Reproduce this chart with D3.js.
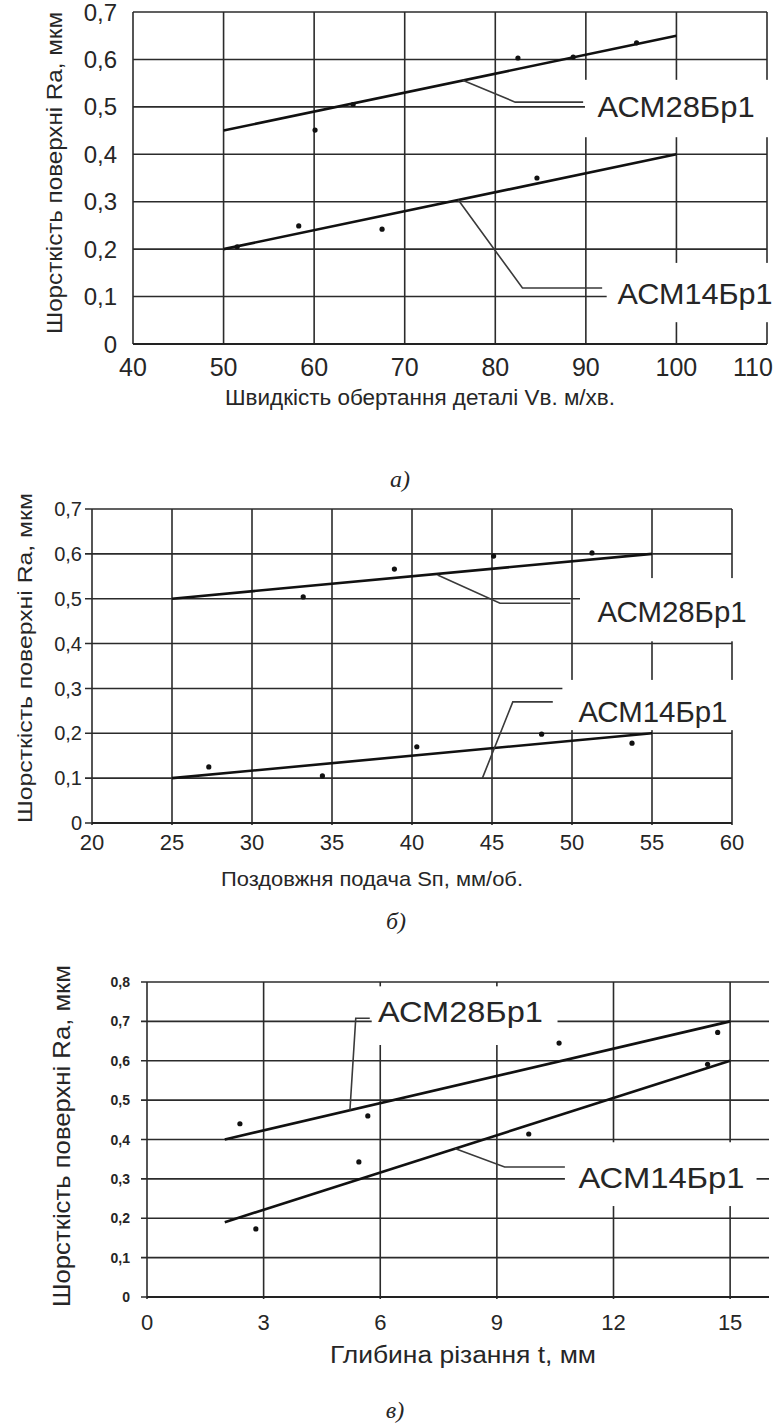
<!DOCTYPE html>
<html>
<head>
<meta charset="utf-8">
<script src="https://cdn.jsdelivr.net/npm/d3@7"></script>
<style>
  html, body { margin: 0; padding: 0; background: #fff; }
  svg { display: block; }
  text { font-family: "Liberation Sans", Arial, sans-serif; fill: #262626; }
</style>
</head>
<body>
<svg id="chart" width="776" height="1425"></svg>
<script>
// Shared labels
const grades = ["АСМ28Бр1", "АСМ14Бр1"];
const roughnessTitle = "Шорсткість поверхні Ra, мкм";

// а) surface roughness vs workpiece rotation speed
const speedTicks = [40, 50, 60, 70, 80, 90, 100, 110];
const speedRaTicks = [0, 0.1, 0.2, 0.3, 0.4, 0.5, 0.6, 0.7];
const speedFit28 = [[50, 0.45], [100, 0.65]];
const speedFit14 = [[50, 0.20], [100, 0.40]];
const speedPts28 = [[60.1, 0.451], [64.3, 0.505], [82.5, 0.603], [88.6, 0.605], [95.6, 0.635]];
const speedPts14 = [[51.5, 0.205], [58.3, 0.249], [67.5, 0.242], [84.6, 0.350]];
const speedLead28 = [[76.4, 0.556], [82.2, 0.510], [89.7, 0.510]];
const speedLead14 = [[75.9, 0.304], [83.0, 0.118], [91.8, 0.118]];

// б) surface roughness vs longitudinal feed
const feedTicks = [20, 25, 30, 35, 40, 45, 50, 55, 60];
const feedRaTicks = [0, 0.1, 0.2, 0.3, 0.4, 0.5, 0.6, 0.7];
const feedFit28 = [[25, 0.50], [55, 0.60]];
const feedFit14 = [[25, 0.10], [55, 0.20]];
const feedPts28 = [[33.2, 0.504], [38.9, 0.566], [45.1, 0.595], [51.25, 0.602]];
const feedPts14 = [[27.3, 0.125], [34.4, 0.105], [40.3, 0.170], [48.1, 0.198], [53.75, 0.178]];
const feedLead28 = [[41.6, 0.553], [45.5, 0.490], [49.9, 0.490]];
const feedLead14 = [[44.4, 0.100], [46.3, 0.270], [48.8, 0.270]];

// в) surface roughness vs depth of cut
const depthTicks = [0, 3, 6, 9, 12, 15];
const depthRaTicks = [0, 0.1, 0.2, 0.3, 0.4, 0.5, 0.6, 0.7, 0.8];
const depthFit28 = [[2, 0.40], [15, 0.70]];
const depthFit14 = [[2, 0.19], [15, 0.60]];
const depthPts28 = [[2.39, 0.440], [5.68, 0.460], [10.6, 0.645], [14.68, 0.672]];
const depthPts14 = [[2.8, 0.173], [5.45, 0.343], [9.82, 0.414], [14.42, 0.591]];
const depthLead28 = [[5.22, 0.474], [5.37, 0.708], [5.73, 0.708]];
const depthLead14 = [[7.92, 0.377], [9.2, 0.330], [10.75, 0.330]];

const fmt = v => String(v).replace(".", ",");

const panels = [
  {
    xTicks: speedTicks, yTicks: speedRaTicks, xDomain: [40, 110], yDomain: [0, 0.7],
    xRange: [133, 767], yRange: [344, 12],
    fits: [speedFit28, speedFit14], pts: [speedPts28, speedPts14], leads: [speedLead28, speedLead14],
    boxes: [
      { x0: 89.9, x1: 112, y0: 0.557, y1: 0.436, tx: 91.3, ty: 0.479, len: 157 },
      { x0: 92.3, x1: 112, y0: 0.171, y1: 0.046, tx: 93.5, ty: 0.084, len: 155 }
    ],
    yTickFont: 24, yTickGap: 16, tickLen: 0, xTickFont: 25, xTickY: 376,
    xTitle: "Швидкість обертання деталі Vв. м/хв.", xTitleX: 420, xTitleY: 405, xTitleFont: 22, xTitleLen: 390,
    yTitleX: 54, yTitleY: 173, yTitleLen: 322, yTitleFont: 22,
    caption: "а)", capX: 400, capY: 487
  },
  {
    xTicks: feedTicks, yTicks: feedRaTicks, xDomain: [20, 60], yDomain: [0, 0.7],
    xRange: [92, 732], yRange: [823, 509],
    fits: [feedFit28, feedFit14], pts: [feedPts28, feedPts14], leads: [feedLead28, feedLead14],
    boxes: [
      { x0: 50.5, x1: 61.1, y0: 0.546, y1: 0.405, tx: 51.6, ty: 0.448, len: 149 },
      { x0: 49.4, x1: 61.1, y0: 0.319, y1: 0.207, tx: 50.4, ty: 0.225, len: 149 }
    ],
    yTickFont: 20, yTickGap: 10, tickLen: 7, xTickFont: 22, xTickY: 850,
    xTitle: "Поздовжня подача Sп, мм/об.", xTitleX: 372, xTitleY: 886, xTitleFont: 21, xTitleLen: 302,
    yTitleX: 25, yTitleY: 658, yTitleLen: 330, yTitleFont: 21,
    caption: "б)", capX: 396, capY: 929
  },
  {
    xTicks: depthTicks, yTicks: depthRaTicks, xDomain: [0, 16], yDomain: [0, 0.8],
    xRange: [147, 769], yRange: [1297, 982],
    fits: [depthFit28, depthFit14], pts: [depthPts28, depthPts14], leads: [depthLead28, depthLead14],
    boxes: [
      { x0: 5.78, x1: 10.56, y0: 0.789, y1: 0.640, tx: 5.94, ty: 0.698, len: 165 },
      { x0: 10.75, x1: 15.68, y0: 0.393, y1: 0.231, tx: 11.1, ty: 0.277, len: 166 }
    ],
    yTickFont: 14, yTickBold: true, yTickGap: 17, tickLen: 6, xTickFont: 22, xTickY: 1330,
    xTitle: "Глибина різання t, мм", xTitleX: 463, xTitleY: 1363, xTitleFont: 23, xTitleLen: 266,
    yTitleX: 62, yTitleY: 1136, yTitleLen: 342, yTitleFont: 23,
    caption: "в)", capX: 395, capY: 1418
  }
];

const svg = d3.select("#chart");

panels.forEach(p => {
  const x = d3.scaleLinear().domain(p.xDomain).range(p.xRange);
  const y = d3.scaleLinear().domain(p.yDomain).range(p.yRange);
  const g = svg.append("g");
  const [xl, xr] = p.xRange;
  const [yb, yt] = p.yRange;

  // grid: horizontal lines at each roughness tick, vertical lines at each x tick
  g.append("g").selectAll("line").data(p.yTicks).join("line")
    .attr("x1", xl - p.tickLen).attr("x2", xr)
    .attr("y1", d => y(d)).attr("y2", d => y(d))
    .attr("stroke", "#2b2b2b").attr("stroke-width", 1.6);
  g.append("g").selectAll("line").data(p.xTicks).join("line")
    .attr("x1", d => x(d)).attr("x2", d => x(d))
    .attr("y1", yt).attr("y2", yb + (p.tickLen ? 2 : 0))
    .attr("stroke", "#2b2b2b").attr("stroke-width", 1.6);
  // bottom axis drawn a touch heavier
  g.append("line").attr("x1", xl).attr("x2", xr).attr("y1", yb).attr("y2", yb)
    .attr("stroke", "#222").attr("stroke-width", 2.2);

  // white patches behind the grade labels
  g.append("g").selectAll("rect").data(p.boxes).join("rect")
    .attr("x", d => x(d.x0)).attr("y", d => y(d.y0))
    .attr("width", d => x(d.x1) - x(d.x0)).attr("height", d => y(d.y1) - y(d.y0))
    .attr("fill", "#fff");

  // regression lines
  const line = d3.line().x(d => x(d[0])).y(d => y(d[1]));
  g.append("g").selectAll("path").data(p.fits).join("path")
    .attr("d", line).attr("fill", "none")
    .attr("stroke", "#111").attr("stroke-width", 2.6);

  // leader lines to the grade labels
  g.append("g").selectAll("path").data(p.leads).join("path")
    .attr("d", line).attr("fill", "none")
    .attr("stroke", "#3a3a3a").attr("stroke-width", 1.6);

  // measured points
  g.append("g").selectAll("circle").data(p.pts.flat()).join("circle")
    .attr("cx", d => x(d[0])).attr("cy", d => y(d[1]))
    .attr("r", 2.6).attr("fill", "#111");

  // grade labels
  g.append("g").selectAll("text").data(p.boxes).join("text")
    .attr("x", d => x(d.tx)).attr("y", d => y(d.ty))
    .attr("font-size", 29).attr("textLength", d => d.len)
    .attr("lengthAdjust", "spacingAndGlyphs")
    .text((d, i) => grades[i]);

  // y tick labels
  g.append("g").selectAll("text").data(p.yTicks).join("text")
    .attr("x", xl - p.yTickGap).attr("y", d => y(d))
    .attr("dy", "0.36em").attr("text-anchor", "end")
    .attr("font-size", p.yTickFont)
    .attr("font-weight", p.yTickBold ? "bold" : "normal")
    .attr("fill", p.yTickBold ? "#3a3a3a" : "#262626")
    .text(fmt);

  // x tick labels; the last one is kept inside the page edge
  const lastTick = p.xTicks[p.xTicks.length - 1];
  g.append("g").selectAll("text").data(p.xTicks).join("text")
    .attr("x", d => Math.min(x(d), 774 - (String(d).length * p.xTickFont * 0.28)))
    .attr("y", p.xTickY)
    .attr("text-anchor", "middle").attr("font-size", p.xTickFont)
    .text(d => d);

  // axis titles
  g.append("text").attr("x", p.xTitleX).attr("y", p.xTitleY)
    .attr("text-anchor", "middle").attr("font-size", p.xTitleFont)
    .attr("textLength", p.xTitleLen).attr("lengthAdjust", "spacingAndGlyphs")
    .text(p.xTitle);
  g.append("text")
    .attr("transform", `translate(${p.yTitleX},${p.yTitleY}) rotate(-90)`)
    .attr("text-anchor", "middle").attr("dy", "0.35em")
    .attr("font-size", p.yTitleFont)
    .attr("textLength", p.yTitleLen).attr("lengthAdjust", "spacingAndGlyphs")
    .text(roughnessTitle);

  // panel caption
  g.append("text").attr("x", p.capX).attr("y", p.capY)
    .attr("text-anchor", "middle").attr("font-size", 24)
    .attr("font-style", "italic")
    .style("font-family", "'Liberation Serif', 'Times New Roman', serif")
    .text(p.caption);
});
</script>
</body>
</html>
